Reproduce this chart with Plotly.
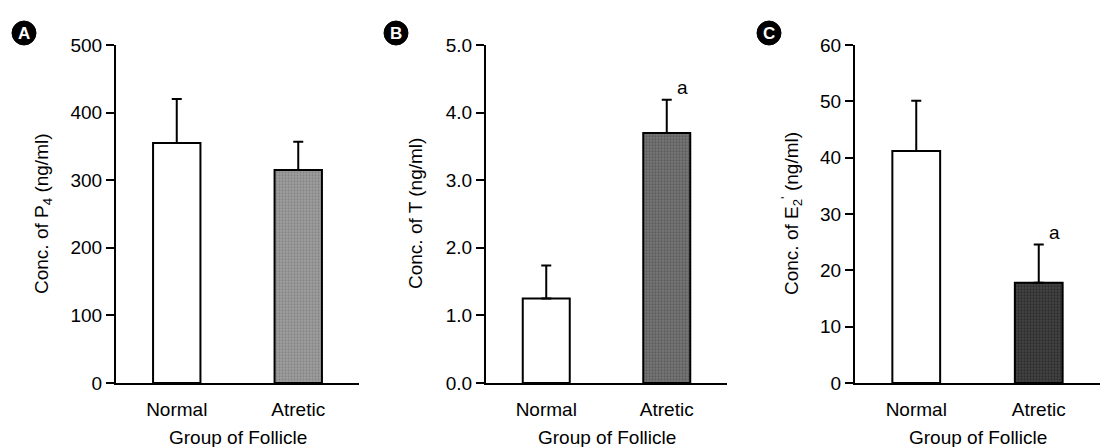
import plotly.graph_objects as go

# ---- data ----
categories = ["Normal", "Atretic"]
p4_mean = [355, 315]
p4_sem = [65, 42]
t_mean = [1.25, 3.70]
t_sem = [0.49, 0.49]
e2_mean = [41.2, 17.8]
e2_sem = [8.9, 6.8]
sig_p4 = ["", ""]
sig_t = ["", "a"]
sig_e2 = ["", "a"]

panel_letters = ["A", "B", "C"]
y_titles = ["Conc. of P<sub>4</sub> (ng/ml)",
            "Conc. of T (ng/ml)",
            "Conc. of E<sub>2</sub><sup>'</sup> (ng/ml)"]
x_title = "Group of Follicle"

W, H = 1104, 447
FONT = "Liberation Sans, Arial, sans-serif"
FS = 19


def fx(p):
    return p / W


def fy(p):
    return 1 - p / H


panels = [
    dict(mean=p4_mean, sem=p4_sem, sig=sig_p4, xdom=(116, 359), rng=[0, 500], dtick=100,
         fmt="d", fill=("#a0a0a0", "#6c6c6c"), title_x=43, circ_x=24),
    dict(mean=t_mean, sem=t_sem, sig=sig_t, xdom=(486, 727), rng=[0, 5], dtick=1,
         fmt=".1f", fill=("#787878", "#404040"), title_x=416, circ_x=396),
    dict(mean=e2_mean, sem=e2_sem, sig=sig_e2, xdom=(855, 1100), rng=[0, 60], dtick=10,
         fmt="d", fill=("#444444", "#161616"), title_x=792, circ_x=769),
]

ydom = [fy(383), fy(45)]

fig = go.Figure()
annotations = []
shapes = []
layout = {}

for i, p in enumerate(panels):
    n = "" if i == 0 else str(i + 1)
    xa, ya = "x" + n, "y" + n
    # Normal bar (white)
    fig.add_trace(go.Bar(
        x=[categories[0]], y=[p["mean"][0]], xaxis=xa, yaxis=ya, width=0.39,
        marker=dict(color="white", line=dict(color="black", width=2)),
        error_y=dict(type="data", array=[p["sem"][0]], arrayminus=[0], symmetric=False,
                     thickness=2, width=5, color="black"),
        showlegend=False, hoverinfo="skip"))
    # Atretic bar (stippled grey)
    fig.add_trace(go.Bar(
        x=[categories[1]], y=[p["mean"][1]], xaxis=xa, yaxis=ya, width=0.39,
        marker=dict(color=p["fill"][0], line=dict(color="black", width=2),
                    pattern=dict(shape=".", fgcolor=p["fill"][1], bgcolor=p["fill"][0],
                                 size=3, solidity=0.45)),
        error_y=dict(type="data", array=[p["sem"][1]], arrayminus=[0], symmetric=False,
                     thickness=2, width=5, color="black"),
        showlegend=False, hoverinfo="skip"))

    layout["xaxis" + n] = dict(
        domain=[fx(p["xdom"][0]), fx(p["xdom"][1])], anchor=ya,
        type="category", categoryorder="array", categoryarray=categories,
        range=[-0.5, 1.5], showline=True, linecolor="black", linewidth=2,
        ticks="", showgrid=False, zeroline=False, automargin=False,
        tickfont=dict(family=FONT, size=FS, color="black"), ticklabelstandoff=8)
    layout["yaxis" + n] = dict(
        domain=ydom, anchor=xa, range=p["rng"], dtick=p["dtick"], tick0=0,
        tickformat=p["fmt"], showline=True, linecolor="black", linewidth=2,
        ticks="outside", ticklen=8, tickwidth=2, tickcolor="black",
        showgrid=False, zeroline=False, automargin=False,
        tickfont=dict(family=FONT, size=FS, color="black"))

    # significance letters
    for j, s in enumerate(p["sig"]):
        if s:
            annotations.append(dict(
                x=categories[j], y=p["mean"][j] + p["sem"][j], xref=xa, yref=ya,
                text=s, showarrow=False, xshift=16, yshift=12,
                font=dict(family=FONT, size=FS, color="black")))

    # y-axis titles
    annotations.append(dict(
        x=fx(p["title_x"]), y=(ydom[0] + ydom[1]) / 2, xref="paper", yref="paper",
        text=y_titles[i], textangle=-90, showarrow=False,
        xanchor="center", yanchor="middle",
        font=dict(family=FONT, size=FS, color="black")))
    # x-axis titles
    cx = (p["xdom"][0] + p["xdom"][1]) / 2
    annotations.append(dict(
        x=fx(cx), y=fy(437), xref="paper", yref="paper", text=x_title,
        showarrow=False, xanchor="center", yanchor="middle",
        font=dict(family=FONT, size=FS, color="black")))

    # panel letter circles
    r = 12
    shapes.append(dict(type="circle", xref="paper", yref="paper",
                       x0=fx(p["circ_x"] - r), x1=fx(p["circ_x"] + r),
                       y0=fy(33 + r), y1=fy(33 - r),
                       fillcolor="black", line=dict(color="black", width=1)))
    annotations.append(dict(
        x=fx(p["circ_x"]), y=fy(33), xref="paper", yref="paper",
        text="<b>" + panel_letters[i] + "</b>", showarrow=False,
        xanchor="center", yanchor="middle",
        font=dict(family=FONT, size=17, color="white")))

fig.update_layout(
    width=W, height=H, margin=dict(l=0, r=0, t=0, b=0, pad=0, autoexpand=False),
    paper_bgcolor="white", plot_bgcolor="white",
    annotations=annotations, shapes=shapes, barmode="overlay",
    font=dict(family=FONT, color="black"),
    **layout)

fig.write_html(
    "out.html",
    config={"displayModeBar": False, "staticPlot": True},
    post_script="document.body.style.margin='0';document.body.style.padding='0';"
                "document.body.style.overflow='hidden';")
